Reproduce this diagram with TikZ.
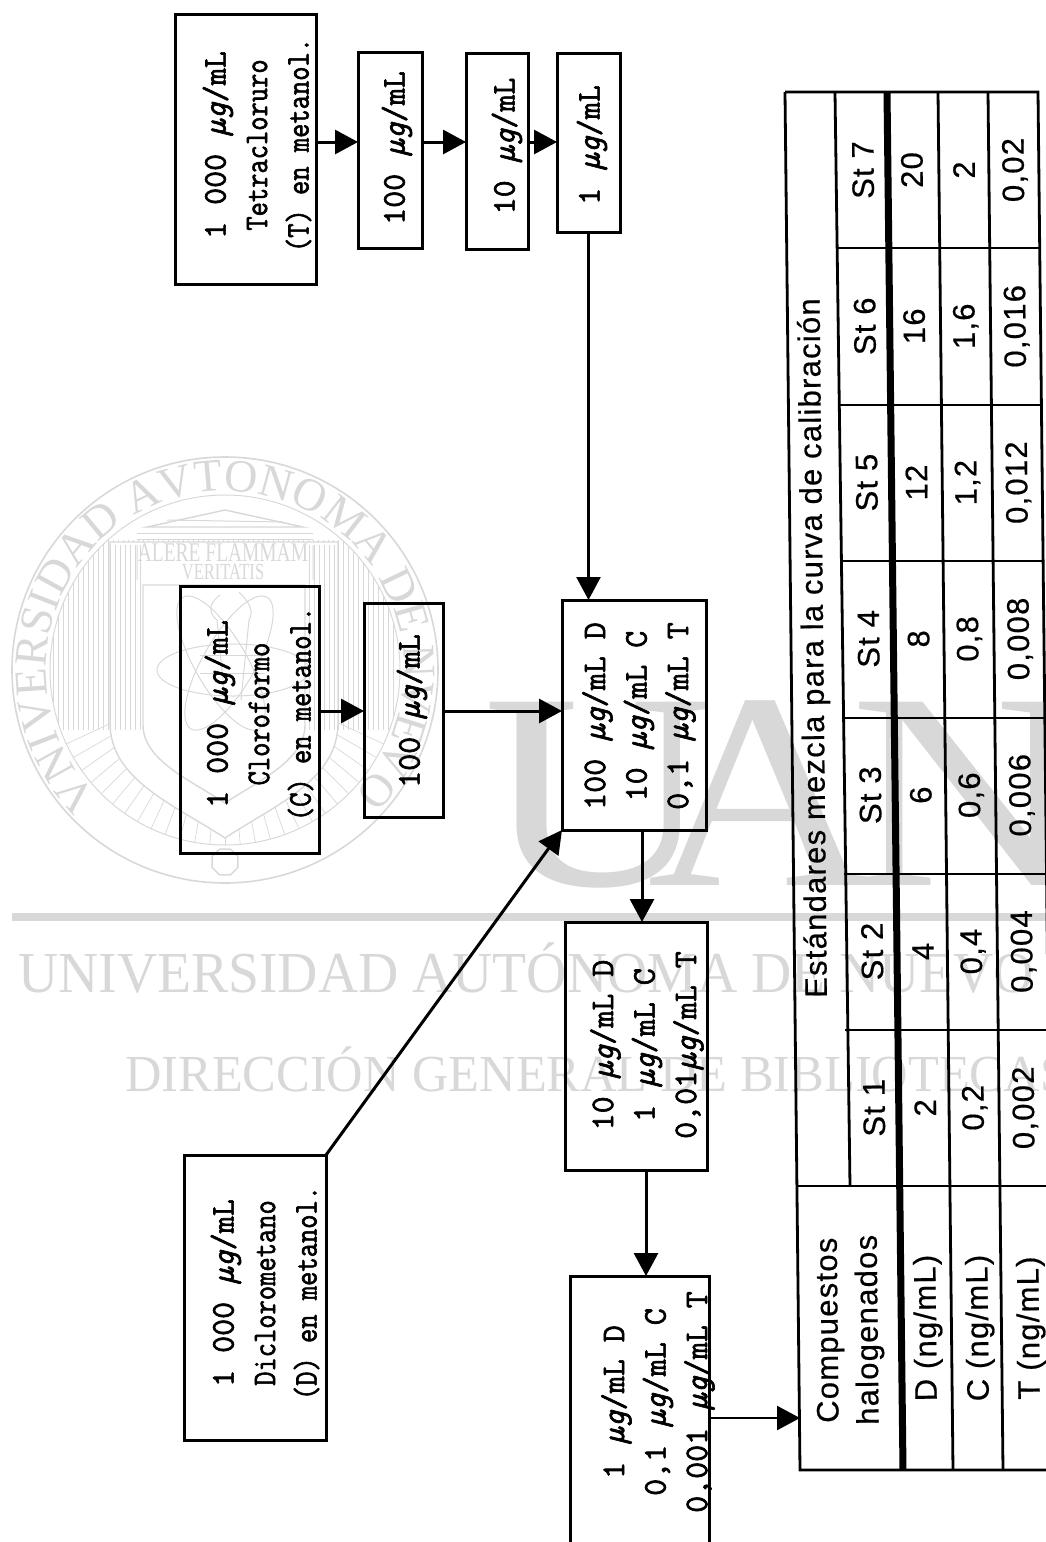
\documentclass[tikz,border=0pt]{standalone}
\usepackage{fontspec}
\usepackage{graphicx}
\usepackage{tikz}
\usetikzlibrary{arrows.meta,decorations.text}
\setmainfont{Liberation Serif}
\newfontfamily\cajafont[FakeBold=2]{Latin Modern Mono}
\newfontfamily\tablafont[LetterSpace=4,FakeBold=0.5]{Liberation Sans}
\definecolor{marca}{HTML}{D8D8D8}
\newcommand{\ug}{{\itshape µg}}
\newcommand{\apretado}[1]{\scalebox{0.84}[1]{#1}}
\tikzset{
  caja/.style={draw, line width=3pt, rotate=90, inner sep=0pt, outer sep=0pt},
  texto/.style={rotate=90, inner sep=0pt, align=center, font=\cajafont\fontsize{33}{41.5}\selectfont},
  flecha/.style={line width=3pt, -{Triangle[length=23pt,width=24pt]}},
  linea/.style={line width=2.8pt},
  celda/.style={rotate=90.6, inner sep=0pt, align=center, font=\tablafont\fontsize{31}{40}\selectfont},
  marcatexto/.style={text=marca, inner sep=0pt, anchor=base west, font=\rmfamily},
  letra/.style={marcatexto, xscale=1.14, font=\fontsize{280}{280}\selectfont}
}
\begin{document}
\begin{tikzpicture}[x=1pt,y=-1pt]
\useasboundingbox (0,0) rectangle (1046,1542);
\clip (0,0) rectangle (1046,1542);
% Marca de agua
\node[letra] (marcaU) at (483,885) {U};
\node[letra] (marcaA) at (647,885) {A};
\node[letra] (marcaN) at (850,885) {N};
\fill[marca] (12,913) rectangle (1046,921);
\node[marcatexto, xscale=0.96, font=\fontsize{58}{58}\selectfont] (marcaUni) at (18,992) {UNIVERSIDAD AUTÓNOMA DE NUEVO LEÓN};
\node[marcatexto, xscale=0.97, font=\fontsize{52}{52}\selectfont] (marcaDir) at (125,1091) {DIRECCIÓN GENERAL DE BIBLIOTECAS};

% Escudo de la marca de agua
\begin{scope}[shift={(225,670)},y=1pt,draw=marca,line width=1pt]
\draw[line width=1.6pt] (0,0) circle (213);
\draw (0,0) circle (175);
\path[decorate,decoration={text along path,text align={fit to path},
  text={|\fontsize{46}{46}\selectfont\color{marca}|VNIVERSIDAD AVTONOMA DE NVEVO LEON}}]
  (225:179) arc[start angle=225,end angle=-42,radius=179];
\begin{scope}[even odd rule]
\clip (0,0) circle (175) (-115,128) -- (113,128) -- (113,-53) .. controls (113,-110) and (50,-135) .. (0,-168) .. controls (-50,-135) and (-115,-110) .. (-115,-53) -- cycle;
\foreach \x in {-172,-167,...,172} \draw[line width=0.7pt] (\x,-60) -- (\x,130);
\foreach \a in {205,210,...,335} \draw[line width=0.7pt] (\a:125) -- (\a:175);
\end{scope}
\draw[line width=1.4pt] (-115,128) -- (113,128) -- (113,-53) .. controls (113,-110) and (50,-135) .. (0,-168) .. controls (-50,-135) and (-115,-110) .. (-115,-53) -- cycle;
\draw[line width=1.4pt] (-82,85) -- (80,85) -- (80,-55) .. controls (80,-90) and (35,-110) .. (0,-133) .. controls (-35,-110) and (-82,-90) .. (-82,-55) -- cycle;
\foreach \x in {-115,-110,...,-85} \draw[line width=0.6pt] (\x,-60) -- (\x,125);
\foreach \x in {84,89,...,110} \draw[line width=0.6pt] (\x,-60) -- (\x,125);
% Templo
\fill[white] (-80,143) -- (0,160) -- (80,143) -- cycle;
\draw[line width=1.4pt] (-78,143) -- (0,160) -- (78,143) -- cycle;
\draw (-88,137) -- (88,137) (-88,131) -- (88,131);
\draw (-58,150) -- (58,148) (-88,125) -- (-88,90) (88,125) -- (88,90);
\node[text=marca, inner sep=0pt, xscale=0.72, font=\rmfamily\fontsize{27}{27}\selectfont] (lema1) at (-2,117) {ALERE FLAMMAM};
\node[text=marca, inner sep=0pt, xscale=0.72, font=\rmfamily\fontsize{23}{23}\selectfont] (lema2) at (-2,98) {VERITATIS};
% Atomo y antorcha
\foreach \g in {0,60,120} \draw[rotate=\g] (8,0) ellipse (76 and 26);
\draw (0,-30) -- (-8,50) .. controls (-20,60) and (-12,70) .. (-5,75) (16,-30) -- (24,50) .. controls (30,60) and (22,70) .. (14,78);
\draw (-25,-3) -- (40,-3) (-25,15) -- (40,15);
\draw[line width=1.4pt,shift={(0,-192)}] plot[samples=9,domain=22.5:382.5] (\x:14);
\end{scope}

% Cajas
\coordinate (filaT) at (0,142);
\coordinate (filaC) at (0,711);
\coordinate (filaS) at (0,1418);
\coordinate (colA) at (642,0);
\coordinate (colB) at (646,0);
\coordinate (tabla) at (800,1418);

\node[caja, minimum width=270, minimum height=141] (tetra) at (245.5,149) {};
\node[caja, minimum width=196, minimum height=64] (tetra100) at (390,150) {};
\node[caja, minimum width=196, minimum height=62] (tetra10) at (497,151) {};
\node[caja, minimum width=179, minimum height=63] (tetra1) at (588.5,142.5) {};
\node[caja, minimum width=267, minimum height=139] (cloro) at (249.5,719.5) {};
\node[caja, minimum width=214, minimum height=79] (cloro100) at (403.5,710) {};
\node[caja, minimum width=285, minimum height=142] (dicloro) at (255,1297.5) {};
\node[caja, minimum width=230, minimum height=144] (mezcla1) at (634,715) {};
\node[caja, minimum width=248, minimum height=142] (mezcla2) at (636,1046) {};
\node[caja, minimum width=330, minimum height=139] (mezcla3) at (639.5,1441) {};

\node[texto] (txtT) at (257,145) {1 000 \ug/mL\\\apretado{Tetracloruro}\\\apretado{(T) en metanol.}};
\node[texto] (txtT100) at (397,148) {100 \ug/mL};
\node[texto] (txtT10) at (507,146) {10 \ug/mL};
\node[texto] (txtT1) at (592,145) {1 \ug/mL};
\node[texto] (txtC) at (259,714) {1 000 \ug/mL\\\apretado{Cloroformo}\\\apretado{(C) en metanol.}};
\node[texto] (txtC100) at (412,711) {100 \ug/mL};
\node[texto] (txtD) at (265,1293) {1 000 \ug/mL\\\apretado{Diclorometano}\\\apretado{(D) en metanol.}};
\node[texto] (txtM1) at (639,716) {100 \ug/mL D\\10 \ug/mL C\\0,1 \ug/mL T};
\node[texto] (txtM2) at (647,1045) {10 \ug/mL D\\1 \ug/mL C\\0,01\ug/mL T};
\node[texto] (txtM3) at (658,1402) {1 \ug/mL D\\0,1 \ug/mL C\\0,001 \ug/mL T};

% Flechas
\draw[flecha] (tetra.south |- filaT) -- (tetra100.north |- filaT);
\draw[flecha] (tetra100.south |- filaT) -- (tetra10.north |- filaT);
\draw[flecha] (tetra10.south |- filaT) -- (tetra1.north |- filaT);
\draw[flecha, line width=2.5pt] (tetra1.west) -- (tetra1.west |- mezcla1.east);
\draw[flecha] (cloro.south |- filaC) -- (cloro100.north |- filaC);
\draw[flecha] (cloro100.south |- filaC) -- (mezcla1.north |- filaC);
\draw[flecha] (dicloro.south east) -- (mezcla1.north west);
\draw[flecha] (mezcla1.west -| colA) -- (mezcla2.east -| colA);
\draw[flecha] (mezcla2.west -| colB) -- (mezcla3.east -| colB);
\draw[flecha, line width=2.5pt] (mezcla3.south |- filaS) -- (tabla);

% Tabla
\draw[linea] (785,92) -- (800,1470) -- (1060,1470);
\draw[linea] (785,92) -- (1038,92) -- (1053,1470);
\draw[linea] (835,92) -- (850,1186);
\draw[line width=7pt] (887,92) -- (903,1470);
\draw[linea] (938,92) -- (953,1470);
\draw[linea] (988,92) -- (1003,1470);
\draw[linea] (798,1186) -- (1060,1186);
\foreach \y in {248,405,561,718,874,1030}
  \draw[linea] ({835+(\y-92)*0.0109},\y) -- ({1038+(\y-92)*0.0109},\y);

\node[celda] (titulo) at (815,648) {Estándares mezcla para la curva de calibración};
\node[celda] (comp) at (850,1330) {Compuestos\\halogenados};
\node[celda] (filaD) at (928,1328) {D (ng/mL)};
\node[celda] (filaCl) at (980,1328) {C (ng/mL)};
\node[celda] (filaTe) at (1031,1328) {T (ng/mL)};

\foreach \i/\st/\vd/\vc/\vt in {0/St 7/20/2/{0,02},1/St 6/16/{1,6}/{0,016},2/St 5/12/{1,2}/{0,012},3/St 4/8/{0,8}/{0,008},4/St 3/6/{0,6}/{0,006},5/St 2/4/{0,4}/{0,004},6/St 1/2/{0,2}/{0,002}}{
  \node[celda] (st\i) at ({863+\i*1.85},{170+\i*156.3}) {\st};
  \node[celda] (vd\i) at ({912+\i*2.2},{170+\i*156.3}) {\vd};
  \node[celda] (vc\i) at ({964+\i*1.8},{170+\i*156.3}) {\vc};
  \node[celda] (vt\i) at ({1015+\i*1.7},{170+\i*156.3}) {\vt};
}
\end{tikzpicture}
\end{document}
